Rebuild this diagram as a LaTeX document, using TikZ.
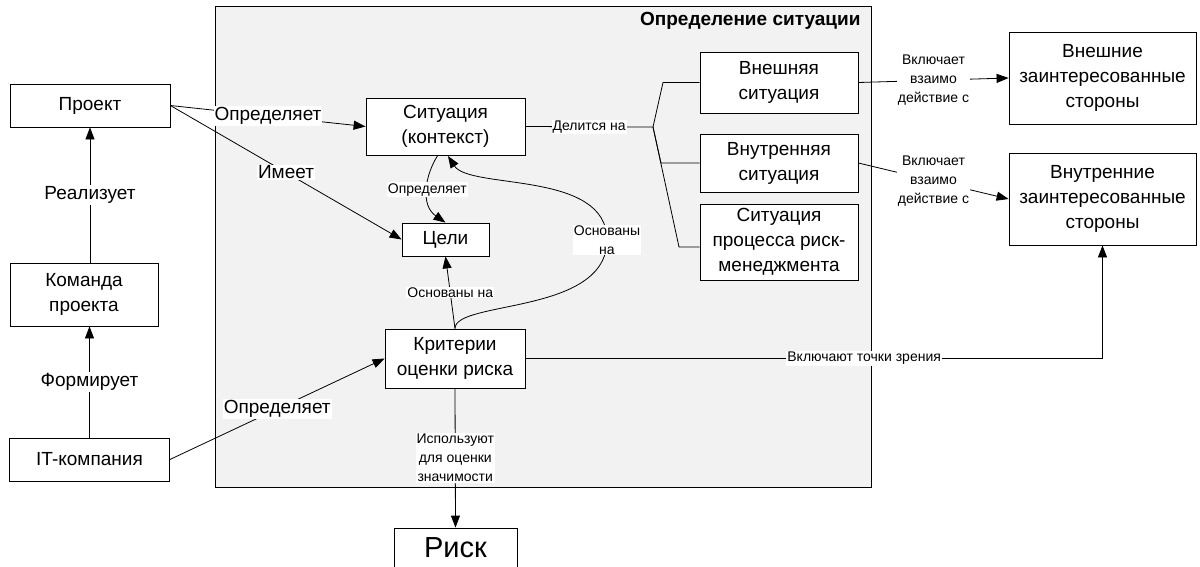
\documentclass[tikz,border=0pt]{standalone}
\usepackage{fontspec}
\setmainfont{Liberation Sans}
\usetikzlibrary{arrows.meta, calc}
\definecolor{areagray}{RGB}{242, 242, 242}

\begin{document}
\begin{tikzpicture}[
    x=1pt, y=-1pt,
    box/.style={draw, fill=white, line width=0.8pt, align=center, inner sep=0pt, font=\fontsize{19}{25}\selectfont},
    lbl/.style={fill=white, inner sep=1pt, font=\fontsize{19}{22}\selectfont},
    lbls/.style={fill=white, inner sep=1pt, align=center, font=\fontsize{14}{19}\selectfont},
    arr/.style={-{Triangle[length=12pt, width=9pt]}, line width=0.8pt},
    ln/.style={line width=0.8pt}
  ]
    \useasboundingbox (0,0) rectangle (1200,566);

    \draw[fill=areagray, line width=0.8pt] (215,6) rectangle (871,487);
    \node[anchor=east, font=\bfseries\fontsize{19}{22}\selectfont] (title) at (864,21) {Определение ситуации};

    \node[box, minimum width=160, minimum height=43] (proj) at (90,105.5) {Проект};
    \node[box, minimum width=148, minimum height=63] (team) at (84,294.5) {Команда\\проекта};
    \node[box, minimum width=160, minimum height=43] (it) at (89.5,459.5) {IT-компания};

    \node[box, minimum width=159, minimum height=57] (sit) at (445.5,126.5) {Ситуация\\(контекст)};
    \node[box, minimum width=87, minimum height=33] (goals) at (445.5,239.5) {Цели};
    \node[box, minimum width=140, minimum height=59] (crit) at (455,358.5) {Критерии\\оценки риска};
    \node[box, minimum width=123, minimum height=40, font=\fontsize{29}{30}\selectfont] (risk) at (455.5,548) {Риск};

    \node[box, minimum width=158, minimum height=61] (ext) at (779,82.5) {Внешняя\\ситуация};
    \node[box, minimum width=158, minimum height=58] (int) at (779,163) {Внутренняя\\ситуация};
    \node[box, minimum width=158, minimum height=76] (proc) at (779,242) {Ситуация\\процесса риск-\\менеджмента};

    \node[box, minimum width=187, minimum height=92] (extst) at (1102.5,78) {Внешние\\заинтересованные\\стороны};
    \node[box, minimum width=187, minimum height=92] (intst) at (1102.5,199) {Внутренние\\заинтересованные\\стороны};

    \coordinate (fork) at (653,127);

    \draw[arr] (proj.east) -- node[lbl] {Определяет} (sit.west);
    \draw[arr] (proj.east) -- node[lbl] {Имеет} (goals.west);
    \draw[arr] (team.north -| proj) -- node[lbl] {Реализует} (proj.south);
    \draw[arr] (it.north) -- node[lbl] {Формирует} (team.south -| it.north);
    \draw[arr] (it.east) -- node[lbl] {Определяет} (crit.west);

    \draw[arr] (438,155) .. controls (425,175) and (420,205) .. node[lbls] {Определяет} (goals.north);
    \draw[arr] (crit.north) -- node[lbls] {Основаны на} (goals.south);
    \draw[arr] (crit.north) .. controls (455,300) and (607,315) .. (607,240)
      node[lbls] {Основаны\\на} .. controls (607,170) and (470,190) .. (448,156);
    \draw[arr] (crit.south) -- node[lbls] {Используют\\для оценки\\значимости} (risk.north);
    \draw[arr] (crit.east) -- node[lbls, pos=0.587] {Включают точки зрения} (crit.east -| intst.south) -- (intst.south);

    \draw[ln] (sit.east) -- node[lbls] {Делится на} (fork);
    \draw[ln] (fork) -- (663,82.5) -- (ext.west);
    \draw[ln] (fork) -- (661,163) -- (int.west);
    \draw[ln] (fork) -- (679,247) -- (proc.west |- 0,247);

    \draw[arr] (ext.east) -- node[lbls] {Включает\\взаимо\\действие с} (extst.west);
    \draw[arr] (int.east) -- node[lbls] {Включает\\взаимо\\действие с} (intst.west);
\end{tikzpicture}
\end{document}
